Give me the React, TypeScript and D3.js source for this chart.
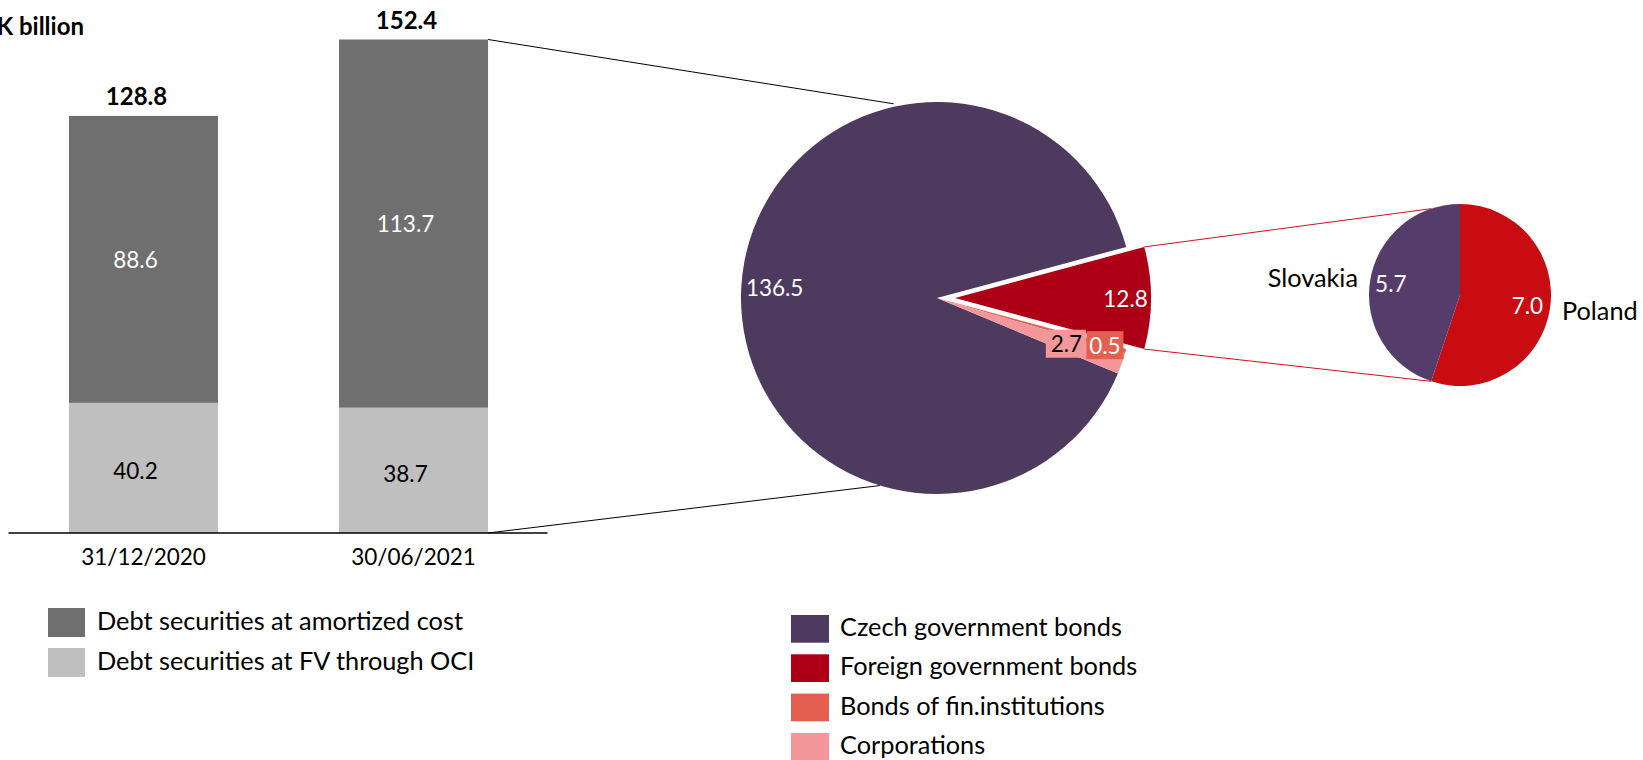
import React from 'react';
import * as d3 from 'd3';

// ---------- DATA ----------
const unitLabel = 'CZK billion';
const barCategories = ['31/12/2020', '30/06/2021'];
const amortizedValues = [88.6, 113.7];
const fvociValues = [40.2, 38.7];
const barTotals = [128.8, 152.4];
const barSeriesNames = ['Debt securities at amortized cost', 'Debt securities at FV through OCI'];

const pieCategories = ['Czech government bonds', 'Foreign government bonds', 'Bonds of fin.institutions', 'Corporations'];
const pieValues = [136.5, 12.8, 0.5, 2.7];

const subCategories = ['Poland', 'Slovakia'];
const subValues = [7.0, 5.7];

// ---------- STYLE ----------
const W = 1643;
const H = 760;
const FONT = 'Lato, "Noto Sans", sans-serif';
const barColors = ['#6f6f6f', '#bfbfbf'];
const pieColors = ['#4d3a5e', '#ad0017', '#e45f50', '#f4979a'];
const subColors = ['#c80c12', '#553d6b'];

const bar = { left: 8.5, right: 548.5, base: 533, top: 39.5 };
const pieC = { x: 937, y: 298, r: 196, explode: 18 };
const subC = { x: 1460, y: 295, r: 91 };
const pieLabelR = [0.83, 0.87, 0.89, 0.7];
const subLabelR = [0.75, 0.77];

export default function App() {
  const x = d3.scaleBand<string>().domain(barCategories).range([bar.left, bar.right]).paddingInner(0.448).paddingOuter(0.224);
  const y = d3.scaleLinear().domain([0, d3.max(barTotals) as number]).range([bar.base, bar.top]);

  // main pie
  const total = d3.sum(pieValues);
  const czechA = (pieValues[0] / total) * 2 * Math.PI;
  const redA = (pieValues[1] / total) * 2 * Math.PI;
  const start = Math.PI / 2 - czechA - redA / 2;
  const pie = d3.pie<number>().sort(null).startAngle(start).endAngle(start + 2 * Math.PI);
  const arcs = pie(pieValues);
  const arcGen = d3.arc<d3.PieArcDatum<number>>().innerRadius(0).outerRadius(pieC.r);
  const pt = (cx: number, cy: number, r: number, a: number): [number, number] => [cx + r * Math.sin(a), cy - r * Math.cos(a)];
  const redArc = arcs[1];
  const redMid = (redArc.startAngle + redArc.endAngle) / 2;
  const ex = pieC.explode * Math.sin(redMid);
  const ey = -pieC.explode * Math.cos(redMid);
  const offsets = arcs.map((a, i) => (i === 1 ? [ex, ey] : [0, 0]));

  // sub pie
  const subPie = d3.pie<number>().sort(null).startAngle(0).endAngle(2 * Math.PI);
  const subArcs = subPie(subValues);
  const subArcGen = d3.arc<d3.PieArcDatum<number>>().innerRadius(0).outerRadius(subC.r);
  const polandEnd = subArcs[0].endAngle;

  // connectors
  const x2r = (x(barCategories[1]) as number) + x.bandwidth();
  const blackTop = pt(pieC.x, pieC.y, pieC.r + 3, (-12.6 * Math.PI) / 180);
  const blackBot = pt(pieC.x, pieC.y, pieC.r, (196.9 * Math.PI) / 180);
  const redTopStart = pt(pieC.x + ex, pieC.y + ey, pieC.r, redArc.startAngle);
  const redBotStart = pt(pieC.x + ex, pieC.y + ey, pieC.r, redArc.endAngle);
  const redTopEnd = pt(subC.x, subC.y, subC.r, Math.PI - polandEnd);
  const redBotEnd = pt(subC.x, subC.y, subC.r, polandEnd);

  const numSize = 22.5;
  const legSize = 25.3;
  const labelDx = -8;

  return (
    <svg width={W} height={H} style={{ position: 'absolute', left: 0, top: 0, background: '#fff' }} fontFamily={FONT}>
      {/* unit */}
      <text x={84} y={35} textAnchor="end" fontWeight="bold" fontSize={24} fill="#000">{unitLabel}</text>

      {/* bars */}
      {barCategories.map((c, i) => {
        const bx = x(c) as number;
        const bw = x.bandwidth();
        const cx = bx + bw / 2 + labelDx;
        const y0 = y(0), y1 = y(fvociValues[i]), y2 = y(fvociValues[i] + amortizedValues[i]);
        return (
          <g key={c}>
            <rect x={bx} y={y1} width={bw} height={y0 - y1} fill={barColors[1]} />
            <rect x={bx} y={y2} width={bw} height={y1 - y2} fill={barColors[0]} />
            <text x={cx} y={(y0 + y1) / 2 + 3} textAnchor="middle" dominantBaseline="central" fontSize={numSize} fill="#000">{fvociValues[i].toFixed(1)}</text>
            <text x={cx} y={(y1 + y2) / 2} textAnchor="middle" dominantBaseline="central" fontSize={numSize} fill="#fff">{amortizedValues[i].toFixed(1)}</text>
            <text x={cx + 1} y={y(barTotals[i]) - 11} textAnchor="middle" fontWeight="bold" fontSize={24} fill="#000">{barTotals[i].toFixed(1)}</text>
            <text x={bx + bw / 2} y={565} textAnchor="middle" fontSize={numSize} fill="#000">{c}</text>
          </g>
        );
      })}
      <line x1={bar.left} x2={bar.right - 1} y1={bar.base} y2={bar.base} stroke="#000" strokeWidth={1.5} />

      {/* black connectors */}
      <line x1={x2r} y1={y(barTotals[1])} x2={blackTop[0]} y2={blackTop[1]} stroke="#000" strokeWidth={1} />
      <line x1={x2r} y1={y(0)} x2={blackBot[0]} y2={blackBot[1]} stroke="#000" strokeWidth={1} />

      {/* main pie */}
      {arcs.map((a, i) => (
        <path key={i} d={arcGen(a) as string} transform={`translate(${pieC.x + offsets[i][0]},${pieC.y + offsets[i][1]})`} fill={pieColors[i]} />
      ))}

      {/* red connectors */}
      <line x1={redTopStart[0]} y1={redTopStart[1]} x2={redTopEnd[0]} y2={redTopEnd[1]} stroke="#d0121b" strokeWidth={1} />
      <line x1={redBotStart[0]} y1={redBotStart[1]} x2={redBotEnd[0]} y2={redBotEnd[1]} stroke="#d0121b" strokeWidth={1} />

      {/* main pie labels */}
      {arcs.map((a, i) => {
        const mid = (a.startAngle + a.endAngle) / 2;
        const [lx, ly] = pt(pieC.x + offsets[i][0], pieC.y + offsets[i][1], pieC.r * pieLabelR[i], mid);
        const txt = pieValues[i].toFixed(1);
        const boxed = i >= 2;
        const bw = 37, bh = 28;
        return (
          <g key={i}>
            {boxed && <rect x={lx - bw / 2 + (i === 3 ? -2 : 0)} y={ly - bh / 2} width={bw + (i === 3 ? 3 : 0)} height={bh} fill={pieColors[i]} />}
            <text x={lx} y={ly} textAnchor="middle" dominantBaseline="central" fontSize={numSize} fill={i === 3 ? '#000' : '#fff'}>{txt}</text>
          </g>
        );
      })}

      {/* sub pie */}
      {subArcs.map((a, i) => (
        <path key={i} d={subArcGen(a) as string} transform={`translate(${subC.x},${subC.y})`} fill={subColors[i]} />
      ))}
      {subArcs.map((a, i) => {
        const mid = (a.startAngle + a.endAngle) / 2;
        const [lx, ly] = pt(subC.x, subC.y, subC.r * subLabelR[i], mid);
        const [, oy] = pt(subC.x, subC.y, subC.r, mid);
        const right = Math.sin(mid) > 0;
        return (
          <g key={i}>
            <text x={lx} y={ly} textAnchor="middle" dominantBaseline="central" fontSize={numSize} fill="#fff">{subValues[i].toFixed(1)}</text>
            <text x={subC.x + (right ? 1 : -1) * (subC.r + 11)} y={oy + (right ? 0 : -3)} textAnchor={right ? 'start' : 'end'} dominantBaseline="central" fontSize={legSize} fill="#000">{subCategories[i]}</text>
          </g>
        );
      })}

      {/* legend bars */}
      {barSeriesNames.map((n, i) => (
        <g key={n} transform={`translate(48,${608 + i * 40})`}>
          <rect x={0} y={0} width={37} height={29} fill={barColors[i]} />
          <text x={49} y={12} dominantBaseline="central" fontSize={legSize} fill="#000">{n}</text>
        </g>
      ))}

      {/* legend pie */}
      {pieCategories.map((n, i) => (
        <g key={n} transform={`translate(791,${615 + i * 39.3})`}>
          <rect x={0} y={0} width={38} height={27.7} fill={pieColors[i]} />
          <text x={49} y={11} dominantBaseline="central" fontSize={legSize} fill="#000">{n}</text>
        </g>
      ))}
    </svg>
  );
}
